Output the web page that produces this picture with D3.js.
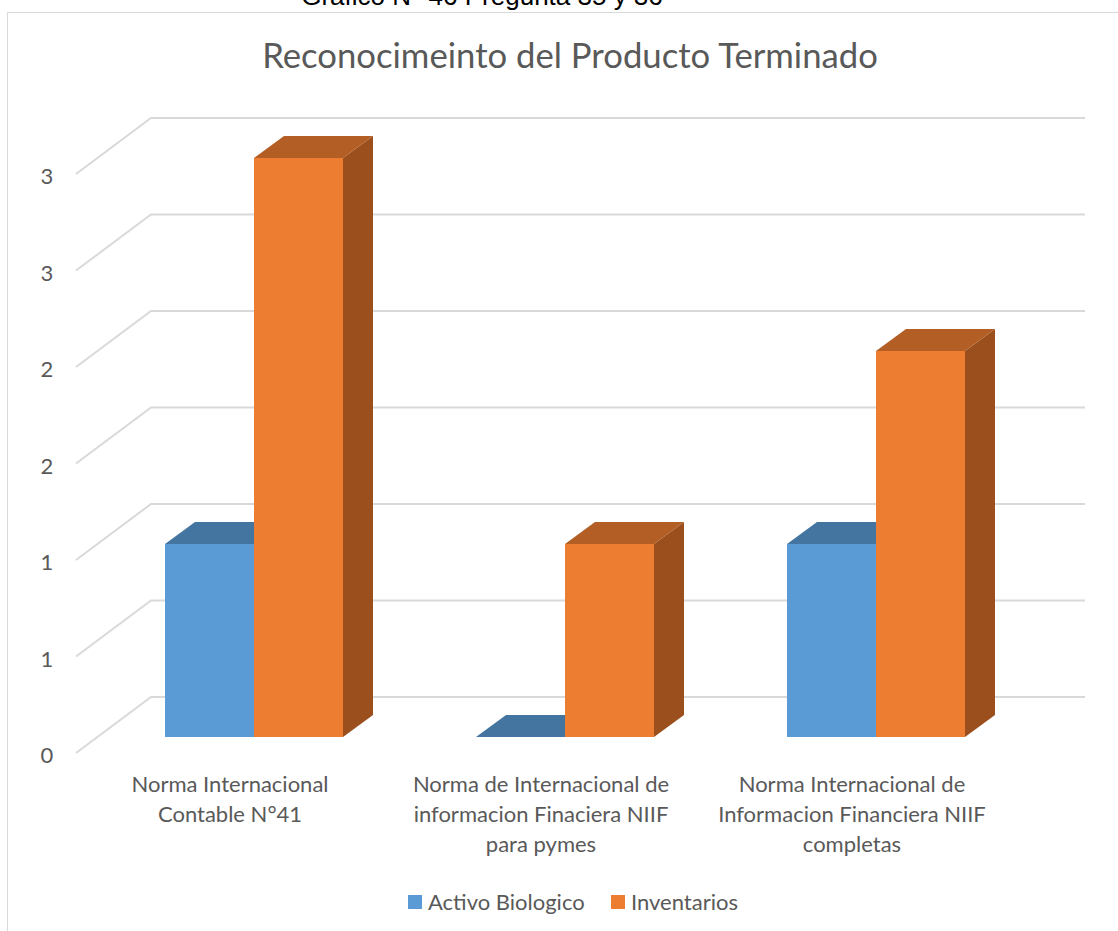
<!DOCTYPE html>
<html>
<head>
<meta charset="utf-8">
<script src="https://cdnjs.cloudflare.com/ajax/libs/d3/7.8.5/d3.min.js"></script>
<style>
  html, body { margin: 0; padding: 0; background: #fff; overflow: hidden; }
  text { font-family: Lato, "Open Sans", sans-serif; fill: #595959; }
</style>
</head>
<body>
<div id="chart"></div>
<script>
'use strict';

const categories = [
    ["Norma Internacional", "Contable N°41"],
    ["Norma de Internacional de", "informacion Finaciera NIIF", "para pymes"],
    ["Norma Internacional de", "Informacion Financiera NIIF", "completas"]
];
const seriesNames = ["Activo Biologico", "Inventarios"];
const activoBiologico = [1, 0, 1];
const inventarios = [3, 1, 2];
const tickValues = [0, 0.5, 1, 1.5, 2, 2.5, 3, 3.5];
const tickLabels = ["0", "1", "1", "2", "2", "3", "3"];

const width = 1118, height = 931;
const depth = {x: 30, y: -22};
const wall = {x: 75, y: -56};
const colors = {
    front: ["#5b9bd5", "#ed7d31"],
    top: ["#4475a1", "#b35e25"],
    side: ["#3a6690", "#9b4f1c"]
};

const svg = d3.select("#chart").append("svg")
    .attr("width", width)
    .attr("height", height);

// chart frame, runs off the bottom and right of the page
svg.append("path")
    .attr("d", "M7.5,931V12.5H1118")
    .attr("fill", "none")
    .attr("stroke", "#d9d9d9");

svg.append("text")
    .attr("x", 482)
    .attr("y", 5)
    .attr("text-anchor", "middle")
    .style("font-family", "'Liberation Sans', Arial, sans-serif")
    .style("font-size", "26px")
    .style("fill", "#000")
    .text("Gráfico N° 46 Pregunta 35 y 36");

svg.append("text")
    .attr("x", 570)
    .attr("y", 68)
    .attr("text-anchor", "middle")
    .style("font-size", "34.7px")
    .text("Reconocimeinto del Producto Terminado");

const yScale = d3.scaleLinear().domain([0, 3]).range([737, 158]);
const xScale = d3.scaleBand()
    .domain(d3.range(categories.length))
    .range([98.5, 1031.5]);
const xInner = d3.scaleBand()
    .domain(d3.range(seriesNames.length))
    .range([0, 178]);

// gridlines: on the floor/wall, offset from the bar plane
const gridY = v => yScale(v) + 16;
const grid = svg.append("g");
grid.selectAll("path")
    .data(tickValues.slice(0, 7))
    .join("path")
    .attr("d", d => {
        const y = gridY(d);
        return `M76,${y}L${76 + wall.x},${y + wall.y}H1085`;
    })
    .attr("fill", "none")
    .attr("stroke", "#d9d9d9")
    .attr("stroke-width", 2);

svg.append("g").selectAll("text")
    .data(tickLabels)
    .join("text")
    .attr("x", 47)
    .attr("y", (d, i) => gridY(tickValues[i]) + 10)
    .attr("text-anchor", "middle")
    .style("font-size", "22px")
    .text(d => d);

const bars = [];
categories.forEach((c, i) => {
    [activoBiologico, inventarios].forEach((vals, s) => {
        bars.push({cat: i, s, value: vals[i]});
    });
});

const barX = d => xScale(d.cat) + (xScale.bandwidth() - 178) / 2 + xInner(d.s);

const barG = svg.append("g").selectAll("g")
    .data(bars)
    .join("g");

barG.append("path")
    .attr("fill", d => colors.side[d.s])
    .attr("d", d => {
        const x = barX(d) + xInner.bandwidth(), y0 = yScale(0), y1 = yScale(d.value);
        return `M${x},${y0}L${x + depth.x},${y0 + depth.y}V${y1 + depth.y}L${x},${y1}Z`;
    });

barG.append("path")
    .attr("fill", d => colors.top[d.s])
    .attr("d", d => {
        const x = barX(d), w = xInner.bandwidth(), y1 = yScale(d.value);
        return `M${x},${y1}L${x + depth.x},${y1 + depth.y}H${x + w + depth.x}L${x + w},${y1}Z`;
    });

barG.append("rect")
    .attr("x", barX)
    .attr("y", d => yScale(d.value))
    .attr("width", xInner.bandwidth())
    .attr("height", d => yScale(0) - yScale(d.value))
    .attr("fill", d => colors.front[d.s]);

svg.append("g").selectAll("text")
    .data(categories)
    .join("text")
    .attr("text-anchor", "middle")
    .style("font-size", "22px")
    .each(function(lines, i) {
        d3.select(this).selectAll("tspan")
            .data(lines)
            .join("tspan")
            .attr("x", xScale(i) + xScale.bandwidth() / 2 - 24)
            .attr("y", (d, j) => 792 + j * 30)
            .text(d => d);
    });

const legendX = [408, 611];
const legend = svg.append("g").selectAll("g")
    .data(seriesNames)
    .join("g")
    .attr("transform", (d, i) => `translate(${legendX[i]},895)`);
legend.append("rect")
    .attr("width", 14)
    .attr("height", 14)
    .attr("fill", (d, i) => colors.front[i]);
legend.append("text")
    .attr("x", 20)
    .attr("y", 15)
    .style("font-size", "22px")
    .text(d => d);
</script>
</body>
</html>
